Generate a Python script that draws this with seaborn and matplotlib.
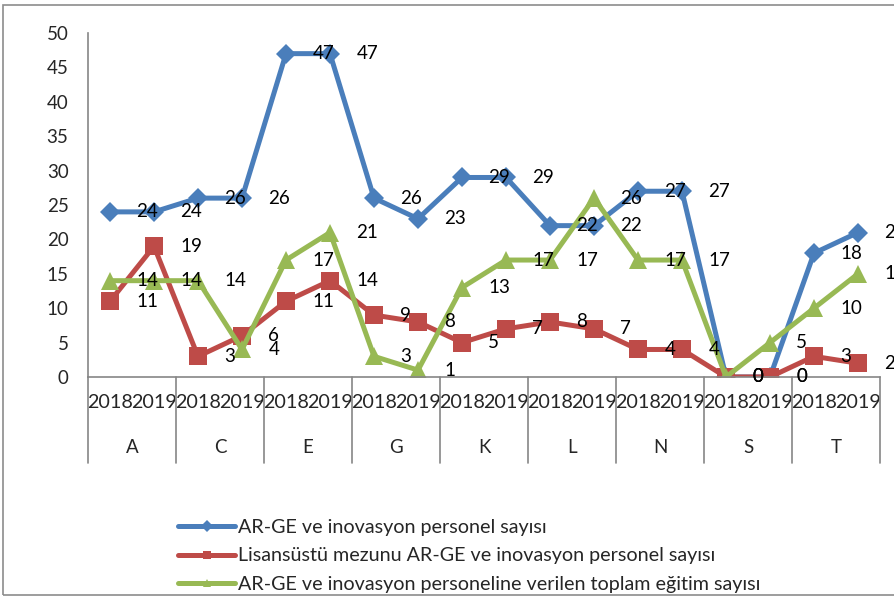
import numpy as np
import pandas as pd
import matplotlib
matplotlib.use("Agg")
import matplotlib.pyplot as plt
import matplotlib.transforms as mtransforms
from matplotlib.lines import Line2D
from matplotlib.patches import Rectangle
import seaborn as sns

# %% data
categories = ["A", "C", "E", "G", "K", "L", "N", "S", "T"]
years = ["2018", "2019"]
series_names = [
    "AR-GE ve inovasyon personel sayısı",
    "Lisansüstü mezunu AR-GE ve inovasyon personel sayısı",
    "AR-GE ve inovasyon personeline verilen toplam eğitim sayısı",
]
personel = [24, 24, 26, 26, 47, 47, 26, 23, 29, 29, 22, 22, 27, 27, 0, 0, 18, 21]
lisansustu = [11, 19, 3, 6, 11, 14, 9, 8, 5, 7, 8, 7, 4, 4, 0, 0, 3, 2]
egitim = [14, 14, 14, 4, 17, 21, 3, 1, 13, 17, 17, 26, 17, 17, 0, 5, 10, 15]

colors = ["#4A7EBB", "#BE4B48", "#98B954"]
markers = ["D", "s", "^"]
marker_sizes = [10.5, 13, 13]

# long table for seaborn
rows = []
for name, vals in zip(series_names, [personel, lisansustu, egitim]):
    for i, v in enumerate(vals):
        rows.append({"pos": i, "value": v, "series": name})
df = pd.DataFrame(rows)

# %% style
sns.set_style("white")
plt.rcParams["font.family"] = ["Lato", "DejaVu Sans"]
FS = 13.5

fig = plt.figure(figsize=(8.95, 5.99), dpi=100)
ax = fig.add_axes([88 / 895, 1 - 377 / 599, (880 - 88) / 895, (377 - 33) / 599])

for name, col, mk, ms in zip(series_names, colors, markers, marker_sizes):
    sub = df[df["series"] == name]
    sns.lineplot(data=sub, x="pos", y="value", ax=ax, color=col, marker=mk,
                 markersize=ms, markeredgewidth=0, linewidth=3.6, sort=False)

# data labels, shifted right of each point
for name in series_names:
    sub = df[df["series"] == name]
    for x, v in zip(sub["pos"], sub["value"]):
        ax.annotate(str(v), (x, v), xytext=(19, 0), textcoords="offset points",
                    ha="left", va="center", fontsize=FS, color="black", zorder=5)

ax.set_xlim(-0.5, 2 * len(categories) - 0.5)
ax.set_ylim(0, 50)
ax.set_yticks(range(0, 51, 5))
ax.set_xticks(range(2 * len(categories)))
ax.set_xticklabels(years * len(categories))
ax.tick_params(axis="x", length=0, pad=12, labelsize=14.2)
ax.tick_params(axis="y", length=0, pad=14, labelsize=FS)
ax.set_xlabel("")
ax.set_ylabel("")

for s in ["top", "right"]:
    ax.spines[s].set_visible(False)
for s in ["left", "bottom"]:
    ax.spines[s].set_color("#868686")
    ax.spines[s].set_linewidth(1.2)

# category separators and letters under the axis
trans = mtransforms.blended_transform_factory(ax.transData, ax.transAxes)
for k in range(len(categories) + 1):
    ax.plot([2 * k - 0.5, 2 * k - 0.5], [0, -0.25], transform=trans,
            color="#868686", lw=1.2, clip_on=False)
for k, c in enumerate(categories):
    ax.text(2 * k + 0.5, -0.205, c, transform=trans, ha="center", va="center",
            fontsize=FS)

# legend
handles = [Line2D([], [], color=c, marker=m, markersize=6, markeredgewidth=0, lw=3.6)
           for c, m in zip(colors, markers)]
fig.legend(handles, series_names, loc="upper left",
           bbox_to_anchor=(178 / 895, 1 - 519 / 599), frameon=False,
           handlelength=2.9, handletextpad=0.15, labelspacing=0.58, fontsize=14.2,
           borderaxespad=0, borderpad=0)

# chart border
fig.patches.append(Rectangle((3 / 895, 4 / 599), 1.2, 1 - 9 / 599,
                             transform=fig.transFigure, fill=False,
                             edgecolor="#8C8C8C", lw=1.2))

fig.savefig("out.png", dpi=100)
